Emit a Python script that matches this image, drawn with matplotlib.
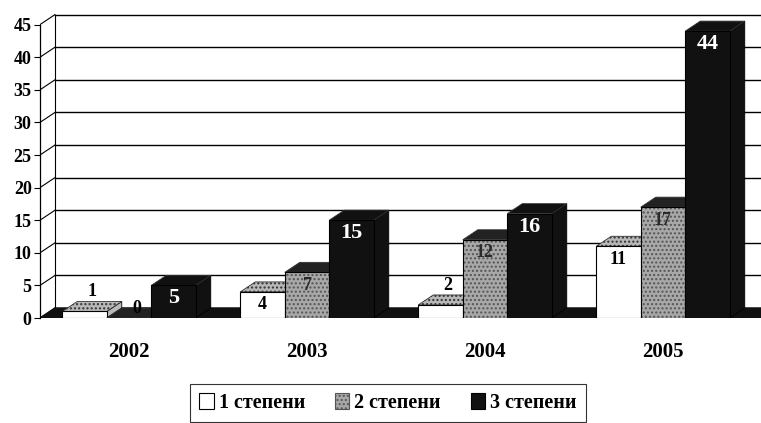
import numpy as np
import matplotlib
matplotlib.use('Agg')
import matplotlib.pyplot as plt
from matplotlib.patches import Patch

# data
years = ['2002', '2003', '2004', '2005']
series_names = ['1 степени', '2 степени', '3 степени']
deg1 = [1, 4, 2, 11]
deg2 = [0, 7, 12, 17]
deg3 = [5, 15, 16, 44]
yticks = [0, 5, 10, 15, 20, 25, 30, 35, 40, 45]

serif = 'Liberation Serif'
plt.rcParams['font.family'] = serif
plt.rcParams['font.weight'] = 'bold'

fig = plt.figure(figsize=(7.61, 4.23), dpi=100)
ax = fig.add_axes([40 / 761, 105 / 423, 721 / 761, 305 / 423])
xmin, xmax = -0.5, -0.5 + 721 / 178
ymax = 305 / 6.52
ax.set_xlim(xmin, xmax)
ax.set_ylim(0, ymax)

# depth offset of the pseudo-3d look
dx = 15 / 178
dy = 10 / 6.52
width = 0.25

for s in ['top', 'right', 'bottom']:
    ax.spines[s].set_visible(False)
ax.spines['left'].set_bounds(0, 45)
ax.spines['left'].set_linewidth(0.9)

# back wall grid, left wall diagonals
for v in yticks:
    ax.plot([xmin + dx, xmax], [v + dy, v + dy], color='black', lw=1.0, zorder=1)
    ax.plot([xmin, xmin + dx], [v, v + dy], color='black', lw=0.8, zorder=1)
ax.plot([xmin + dx, xmin + dx], [dy, 45 + dy], color='black', lw=0.8, zorder=1)

# floor
ax.fill([xmin, xmin + dx, xmax + dx, xmax], [0, dy, dy, 0], color='#111111', zorder=2)

styles = [
    dict(face='white', hatch=None, top='#b8b8b8', tophatch='....', side='#bbbbbb', txt='black', fs=13),
    dict(face='#a8a8a8', hatch='....', top='#222222', tophatch=None, side='#555555', txt='#2a2a2a', fs=13),
    dict(face='#111111', hatch=None, top='#111111', tophatch=None, side='#111111', txt='white', fs=16),
]

z = 3
for i in range(len(years)):
    for j, vals in enumerate([deg1, deg2, deg3]):
        v = vals[i]
        st = styles[j]
        x0 = i - 1.5 * width + j * width
        x1 = x0 + width
        # side face
        ax.fill([x1, x1 + dx, x1 + dx, x1], [0, dy, v + dy, v],
                facecolor=st['side'], edgecolor='black', lw=0.6, zorder=z)
        # top face
        ax.fill([x0, x0 + dx, x1 + dx, x1], [v, v + dy, v + dy, v],
                facecolor=st['top'], edgecolor='#333333', lw=0.6, zorder=z,
                hatch=st['tophatch'])
        # front face
        ax.bar(x0, v, width=width, align='edge', color=st['face'], lw=0, zorder=z)
        if st['hatch']:
            ax.bar(x0, v, width=width, align='edge', fill=False, hatch=st['hatch'],
                   edgecolor='#555555', lw=0, zorder=z)
        ax.bar(x0, v, width=width, align='edge', fill=False, edgecolor='black', lw=0.8, zorder=z)
        z += 1
        # value label
        if v == 0:
            ly = v + 1.5
        elif v < 4:
            ly = v + 3.0
        else:
            ly = v - 2.0
        ax.text(x0 + width / 2 + (dx / 2 if v < 4 else 0), ly, str(v), ha='center', va='center',
                color=st['txt'] if v >= 4 else 'black', fontsize=st['fs'] if v >= 4 else 13,
                fontweight='bold', zorder=50)

ax.set_yticks(yticks)
ax.set_yticklabels([str(t) for t in yticks], fontsize=13, fontweight='bold')
ax.tick_params(axis='y', length=4, width=0.8, pad=2)
ax.set_xticks(range(len(years)))
ax.set_xticklabels(years, fontsize=15, fontweight='bold')
ax.tick_params(axis='x', length=0, pad=17)

handles = [
    Patch(facecolor='white', edgecolor='black', lw=0.8),
    Patch(facecolor='#a8a8a8', edgecolor='#555555', hatch='....', lw=0.8),
    Patch(facecolor='#111111', edgecolor='black', lw=0.8),
]
leg = fig.legend(handles, series_names, loc='center', bbox_to_anchor=(388 / 761, 1 - 403 / 423),
                 ncol=3, frameon=True, fancybox=False, edgecolor='black',
                 handlelength=0.7, handleheight=0.8, handletextpad=0.25, columnspacing=1.5,
                 borderpad=0.45, borderaxespad=0.2, prop={'family': serif, 'weight': 'bold', 'size': 14.5})
leg.get_frame().set_linewidth(0.8)

fig.savefig('out.png', dpi=100)
